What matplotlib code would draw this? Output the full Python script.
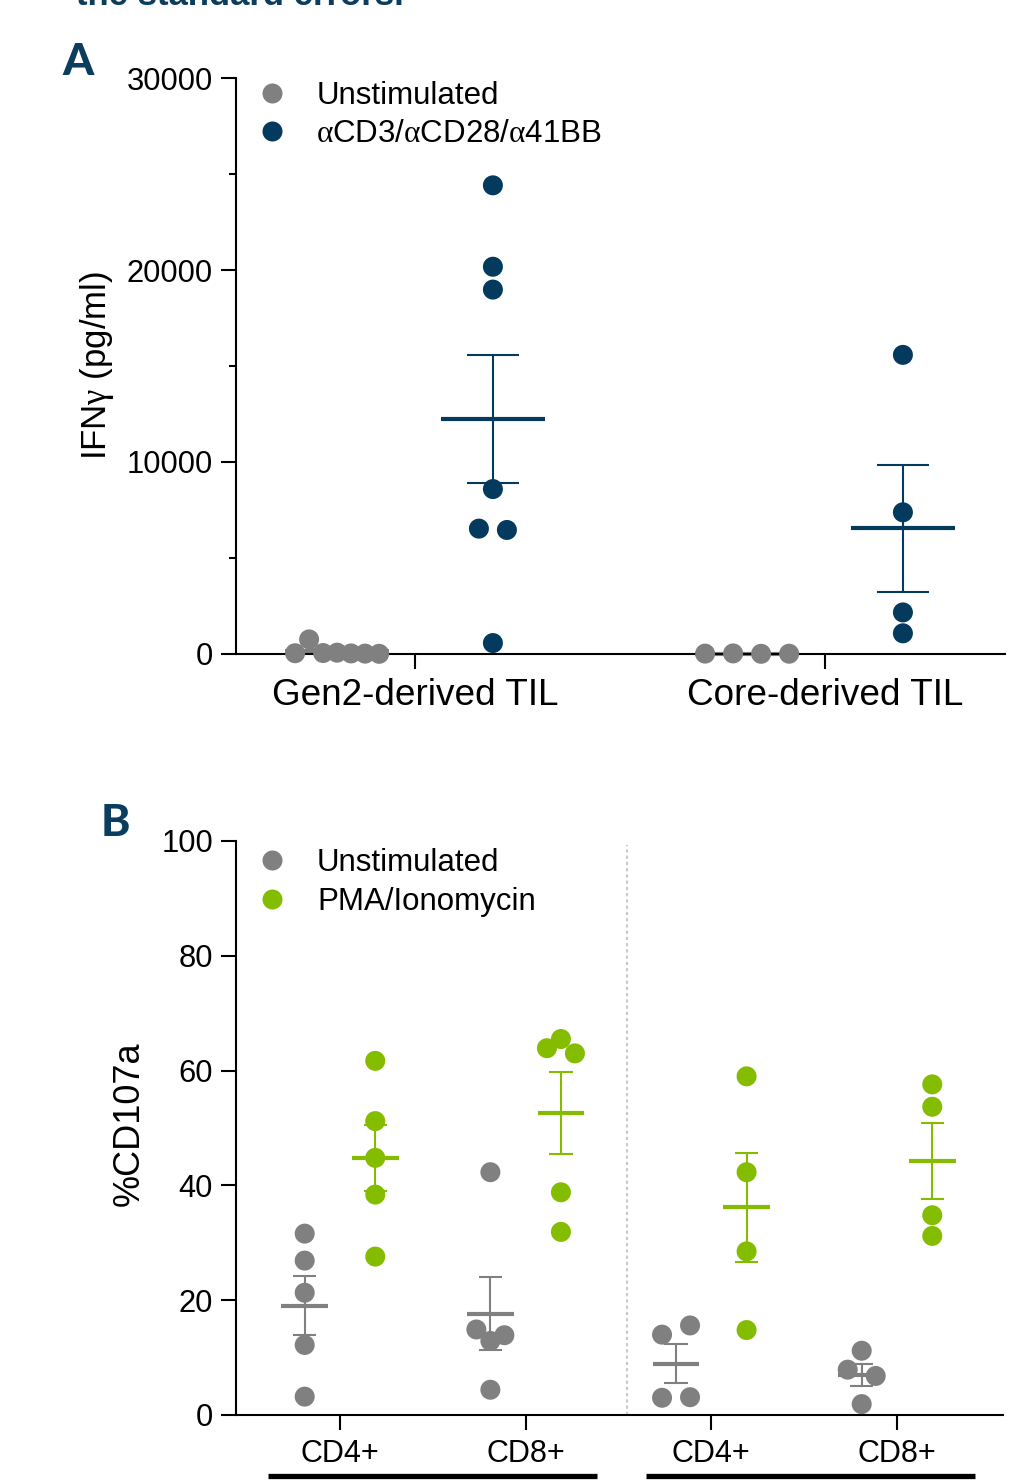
import numpy as np
import matplotlib
matplotlib.use("Agg")
import matplotlib.pyplot as plt
from matplotlib.lines import Line2D
import matplotlib.transforms as mtransforms

plt.rcParams['font.family'] = ['Liberation Sans', 'DejaVu Sans']
plt.rcParams['mathtext.fontset'] = 'custom'
plt.rcParams['mathtext.rm'] = 'Liberation Serif'
plt.rcParams['mathtext.it'] = 'Liberation Serif:italic'

# ---------------- data ----------------
# Panel A: IFNγ (pg/ml)
a_categories = ["Gen2-derived TIL", "Core-derived TIL"]
a_unstim = [
    [40, 760, 50, 70, 30, 20, 10],
    [20, 30, 10, 15],
]
a_stim = [
    [24410, 20170, 18980, 8590, 6530, 6460, 570],
    [15580, 7380, 2166, 1078],
]
a_series = ["Unstimulated", r"$\mathrm{\alpha}$CD3/$\mathrm{\alpha}$CD28/$\mathrm{\alpha}$41BB"]
a_yticks = [0, 10000, 20000, 30000]

# Panel B: %CD107a
b_categories = ["CD4+", "CD8+", "CD4+", "CD8+"]
b_unstim = [
    [31.6, 26.9, 21.3, 12.2, 3.2],
    [42.3, 14.9, 12.9, 13.9, 4.4],
    [14.0, 15.6, 3.0, 3.1],
    [11.2, 7.9, 6.8, 1.9],
]
b_stim = [
    [61.7, 51.2, 44.8, 38.4, 27.6],
    [63.9, 65.5, 63.0, 38.8, 31.9],
    [59.0, 42.3, 28.5, 14.8],
    [57.6, 53.7, 34.8, 31.2],
]
b_series = ["Unstimulated", "PMA/Ionomycin"]
b_yticks = [0, 20, 40, 60, 80, 100]

# ---------------- style ----------------
GRAY = '#808080'
BLUE = '#033a5e'
GREEN = '#84bd00'
TITLE_BLUE = '#0b3d5e'

W, H = 1016, 1481
fig = plt.figure(figsize=(W / 100, H / 100), dpi=100)

axA = fig.add_axes([236 / W, 1 - 654 / H, (1005 - 236) / W, (654 - 78) / H])
axB = fig.add_axes([236 / W, 1 - 1415 / H, (1003 - 236) / W, (1415 - 841) / H])

OFFSET = 0.19
MEAN_HW = 0.126
CAP_HW = 0.063
MS = 14.4


def swarm_x(ax, center, vals, step_px=14.0, thresh_px=16.0):
    vals = np.asarray(vals, float)
    ypx = ax.transData.transform(np.column_stack([np.zeros_like(vals), vals]))[:, 1]
    x0 = ax.transData.transform((0, 0))[0]
    x1 = ax.transData.transform((1, 0))[0]
    ppu = abs(x1 - x0)
    order = np.argsort(vals, kind='stable')
    rows, cur = [], [order[0]]
    for i in order[1:]:
        if abs(ypx[i] - ypx[cur[0]]) > thresh_px:
            rows.append(cur)
            cur = [i]
        else:
            cur.append(i)
    rows.append(cur)
    offs = np.zeros(len(vals))
    for r in rows:
        r = sorted(r)
        n = len(r)
        step = step_px if n % 2 == 1 else 2 * step_px
        for k, idx in enumerate(r):
            offs[idx] = (k - (n - 1) / 2) * step
    return center + offs / ppu


def draw_group(ax, center, vals, color, mean_lw):
    vals = np.asarray(vals, float)
    m = vals.mean()
    sem = vals.std(ddof=1) / np.sqrt(len(vals))
    ax.hlines(m, center - MEAN_HW, center + MEAN_HW, color=color, lw=mean_lw, zorder=2, clip_on=False)
    ax.vlines(center, m - sem, m + sem, color=color, lw=1.5, zorder=2, clip_on=False)
    ax.hlines([m - sem, m + sem], center - CAP_HW, center + CAP_HW, color=color, lw=1.5, zorder=2, clip_on=False)
    xs = swarm_x(ax, center, vals)
    ax.scatter(xs, vals, s=MS ** 2, color=color, edgecolors='none', zorder=3, clip_on=False)


def style_axes(ax):
    for s in ['top', 'right']:
        ax.spines[s].set_visible(False)
    for s in ['left', 'bottom']:
        ax.spines[s].set_linewidth(1.5)
    ax.tick_params(axis='y', which='major', length=10.5, width=1.5, pad=6, labelsize=22.2)
    ax.tick_params(axis='y', which='minor', length=5, width=1.5)
    ax.tick_params(axis='x', which='major', length=10.5, width=1.5)


# ---------------- Panel A ----------------
axA.set_xlim(-0.4366, 1.439)
axA.set_ylim(0, 30000)
style_axes(axA)
axA.set_yticks(a_yticks)
axA.set_yticks([5000, 15000, 25000], minor=True)
axA.set_xticks(range(len(a_categories)))
axA.set_xticklabels(a_categories, fontsize=26.6)
axA.tick_params(axis='x', pad=6.5)
for i in range(len(a_categories)):
    draw_group(axA, i - OFFSET, a_unstim[i], GRAY, 3.0)
    draw_group(axA, i + OFFSET, a_stim[i], BLUE, 3.0)

hA = [Line2D([], [], ls='none', marker='o', ms=MS, mfc=GRAY, mec='none'),
      Line2D([], [], ls='none', marker='o', ms=MS, mfc=BLUE, mec='none')]
axA.legend(hA, a_series, loc='upper left', bbox_to_anchor=(259 / W, 1 - 81 / H),
           bbox_transform=fig.transFigure, frameon=False, fontsize=22.5,
           handlelength=0.8, handletextpad=1.04, borderpad=0, borderaxespad=0,
           labelspacing=0.25)
fig.text(97 / W, 1 - 365 / H, r"IFN$\mathrm{\gamma}$ (pg/ml)", rotation=90,
         ha='center', va='center', fontsize=25)

# ---------------- Panel B ----------------
axB.set_xlim(-0.560, 3.571)
axB.set_ylim(0, 100)
style_axes(axB)
axB.set_yticks(b_yticks)
axB.set_xticks(range(len(b_categories)))
axB.set_xticklabels(b_categories, fontsize=22)
axB.tick_params(axis='x', pad=7)
for i in range(len(b_categories)):
    draw_group(axB, i - OFFSET, b_unstim[i], GRAY, 3.0)
    draw_group(axB, i + OFFSET, b_stim[i], GREEN, 3.0)

axB.axvline(1.545, ymin=0, ymax=0.993, color='#c8c8c8', lw=1.5, ls=(0, (1.5, 1.5)), zorder=1)

hB = [Line2D([], [], ls='none', marker='o', ms=MS, mfc=GRAY, mec='none'),
      Line2D([], [], ls='none', marker='o', ms=MS, mfc=GREEN, mec='none')]
axB.legend(hB, b_series, loc='upper left', bbox_to_anchor=(259.5 / W, 1 - 848 / H),
           bbox_transform=fig.transFigure, frameon=False, fontsize=22.5,
           handlelength=0.8, handletextpad=1.04, borderpad=0, borderaxespad=0,
           labelspacing=0.28)
fig.text(129 / W, 1 - 1124 / H, "%CD107a", rotation=90, ha='center', va='center', fontsize=26)

trans = mtransforms.blended_transform_factory(axB.transData, fig.transFigure)
for x0, x1 in [(-0.39, 1.385), (1.65, 3.42)]:
    axB.add_line(Line2D([x0, x1], [1 - 1476 / H, 1 - 1476 / H], transform=trans,
                        color='black', lw=3.8, clip_on=False, solid_capstyle='butt'))

# ---------------- panel letters / caption fragment ----------------
fig.text(78 / W, 1 - 75 / H, "A", fontsize=32, fontweight='black', family=['Lato', 'DejaVu Sans'],
         color=TITLE_BLUE, ha='center', va='baseline')
fig.text(115 / W, 1 - 836 / H, "B", fontsize=32, fontweight='black', family=['Lato', 'DejaVu Sans'],
         color=TITLE_BLUE, ha='center', va='baseline')
fig.text(76 / W, 1 - 5 / H, "the standard errors.", fontsize=25, fontweight='bold',
         color=TITLE_BLUE, ha='left', va='baseline')

fig.savefig("out.png", dpi=100)
